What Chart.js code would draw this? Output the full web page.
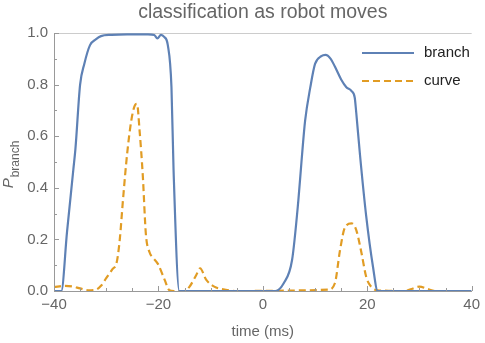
<!DOCTYPE html>
<html>
<head>
<meta charset="utf-8">
<script src="https://cdn.jsdelivr.net/npm/chart.js@4"></script>
<style>
    html, body { margin: 0; padding: 0; background: #fff; }
    #wrap { width: 485px; height: 343px; }
</style>
</head>
<body>
<div id="wrap"><canvas id="probChart" width="485" height="343"></canvas></div>
<script>
const branchTime = [-40, -38.6, -37.5, -36.3, -35.9, -35, -34.2, -33.1, -32, -31, -29, -26, -22, -20.8, -20.2, -19.5, -18.9, -18.2, -17.5, -17.1, -16.0,
    2.4, 4, 5.6, 6.8, 7.4, 8.1, 9.1, 10, 11.2, 12, 13, 13.8, 15, 16, 17, 17.6, 17.9, 18.6, 19.8, 21.1, 22, 40];
const branchValues = [0, 0, 0.23, 0.47, 0.55, 0.8, 0.88, 0.953, 0.975, 0.988, 0.993, 0.995, 0.995, 0.992, 0.979, 0.993, 0.985, 0.953, 0.79, 0.47, 0,
    0, 0.03, 0.12, 0.35, 0.5, 0.66, 0.79, 0.88, 0.91, 0.915, 0.9, 0.87, 0.82, 0.79, 0.775, 0.75, 0.69, 0.53, 0.29, 0.094, 0, 0];

const curveTime = [-40, -38, -36.5, -35, -33.5, -32, -31, -30, -28.8, -28, -27.4, -26.8, -26, -25.2, -24.5, -24.1, -23.6, -23, -22.4, -21.7, -21.1, -20.1, -18.8, -17.9, -17,
    -15, -14.1, -12.8, -12, -10.9, -9.3, -7.1, -5, 12.5, 13.8, 14.8, 15.7, 17, 17.9, 18.9, 19.8, 20.8, 22, 27, 28.5, 30, 31.5, 33, 40];
const curveValues = [0.015, 0.02, 0.018, 0.01, 0.003, 0.005, 0.02, 0.05, 0.085, 0.11, 0.2, 0.35, 0.53, 0.66, 0.72, 0.725, 0.62, 0.45, 0.22, 0.15, 0.13, 0.105, 0.043, 0.003, 0,
    0, 0.015, 0.06, 0.088, 0.045, 0.017, 0.005, 0, 0.005, 0.03, 0.16, 0.245, 0.262, 0.236, 0.147, 0.055, 0.015, 0.003, 0, 0.008, 0.017, 0.008, 0, 0];

const xTicks = [-40, -20, 0, 20, 40];
const yTicks = [0, 0.2, 0.4, 0.6, 0.8, 1.0];

const blue = '#5E81B5';
const orange = '#E19C24';
const textGray = '#666666';
const axisGray = '#999999';

function toPoints(xs, ys) {
    return xs.map(function (x, i) { return { x: x, y: ys[i] }; });
}

function fmt(v) {
    return v < 0 ? '\u2212' + Math.abs(v) : String(v);
}

// Mathematica style frame ticks (pointing inwards) and the italic P_branch label
const framePlugin = {
    id: 'frame',
    afterDraw: function (chart) {
        const ctx = chart.ctx;
        const xs = chart.scales.x;
        const ys = chart.scales.y;
        const area = chart.chartArea;
        ctx.save();
        ctx.strokeStyle = axisGray;
        ctx.lineWidth = 1;
        ctx.beginPath();
        for (let v = -40; v <= 40; v += 5) {
            const px = Math.round(xs.getPixelForValue(v)) + 0.5;
            const len = v % 20 === 0 ? 5 : 3;
            ctx.moveTo(px, area.bottom);
            ctx.lineTo(px, area.bottom - len);
        }
        for (let k = 0; k <= 10; k++) {
            const py = Math.round(ys.getPixelForValue(k / 10)) + 0.5;
            const len = k % 2 === 0 ? 5 : 3;
            ctx.moveTo(area.left, py);
            ctx.lineTo(area.left + len, py);
        }
        ctx.stroke();

        // y axis title
        const cy = (area.top + area.bottom) / 2 + 3;
        ctx.translate(13, cy);
        ctx.rotate(-Math.PI / 2);
        ctx.fillStyle = textGray;
        ctx.textBaseline = 'alphabetic';
        ctx.font = 'italic 15px "Liberation Sans", Arial, sans-serif';
        const wP = ctx.measureText('P').width;
        ctx.font = '12px "Liberation Sans", Arial, sans-serif';
        const wSub = ctx.measureText('branch').width;
        const start = -(wP + wSub) / 2;
        ctx.font = 'italic 15px "Liberation Sans", Arial, sans-serif';
        ctx.fillText('P', start, 0);
        ctx.font = '12px "Liberation Sans", Arial, sans-serif';
        ctx.fillText('branch', start + wP + 1, 6);
        ctx.restore();
    }
};

// legend drawn inside the plot, top right
const legendPlugin = {
    id: 'insideLegend',
    afterDraw: function (chart) {
        const ctx = chart.ctx;
        ctx.save();
        ctx.font = '15px "Liberation Sans", Arial, sans-serif';
        ctx.textBaseline = 'middle';
        chart.data.datasets.forEach(function (ds, i) {
            const y = 53 + i * 28;
            ctx.strokeStyle = ds.borderColor;
            ctx.lineWidth = 2;
            ctx.setLineDash(ds.borderDash || []);
            ctx.beginPath();
            ctx.moveTo(362, y);
            ctx.lineTo(414, y);
            ctx.stroke();
            ctx.fillStyle = '#222222';
            ctx.fillText(ds.label, 424, y);
        });
        ctx.restore();
    }
};

const ctx = document.getElementById('probChart').getContext('2d');
const probChart = new Chart(ctx, {
    type: 'line',
    data: {
        datasets: [{
            label: 'branch',
            data: toPoints(branchTime, branchValues),
            borderColor: blue,
            borderWidth: 2.2,
            pointRadius: 0,
            cubicInterpolationMode: 'monotone',
            fill: false
        }, {
            label: 'curve',
            data: toPoints(curveTime, curveValues),
            borderColor: orange,
            borderWidth: 2.2,
            borderDash: [7, 4],
            pointRadius: 0,
            cubicInterpolationMode: 'monotone',
            fill: false
        }]
    },
    options: {
        responsive: false,
        animation: false,
        events: [],
        layout: { padding: { left: 0, right: 10, top: 0, bottom: 0 } },
        plugins: {
            legend: { display: false },
            tooltip: { enabled: false },
            title: {
                display: true,
                fullSize: false,
                text: 'classification as robot moves',
                color: textGray,
                font: { family: '"Liberation Sans", Arial, sans-serif', size: 19.5, weight: 'normal' },
                padding: { top: 1, bottom: 8.6 }
            }
        },
        scales: {
            x: {
                type: 'linear',
                min: -40,
                max: 40,
                afterBuildTicks: function (scale) {
                    scale.ticks = xTicks.map(function (v) { return { value: v }; });
                },
                afterFit: function (scale) { scale.height = 52; },
                ticks: {
                    color: textGray,
                    padding: 5,
                    maxRotation: 0,
                    font: { family: '"Liberation Sans", Arial, sans-serif', size: 15 },
                    callback: function (v) { return fmt(v); }
                },
                grid: { drawOnChartArea: false, drawTicks: false },
                border: { color: axisGray },
                title: {
                    display: true,
                    text: 'time (ms)',
                    color: textGray,
                    padding: { top: 0, bottom: 2 },
                    font: { family: '"Liberation Sans", Arial, sans-serif', size: 15 }
                }
            },
            y: {
                type: 'linear',
                min: 0,
                max: 1,
                afterBuildTicks: function (scale) {
                    scale.ticks = yTicks.map(function (v) { return { value: v }; });
                },
                afterFit: function (scale) { scale.width = 54; },
                ticks: {
                    color: textGray,
                    padding: 6,
                    font: { family: '"Liberation Sans", Arial, sans-serif', size: 15 },
                    callback: function (v) { return v.toFixed(1); }
                },
                grid: {
                    drawTicks: false,
                    color: function (c) { return c.tick && c.tick.value === 1 ? '#cccccc' : 'rgba(0,0,0,0)'; }
                },
                border: { color: axisGray }
            }
        }
    },
    plugins: [framePlugin, legendPlugin]
});
</script>
</body>
</html>
